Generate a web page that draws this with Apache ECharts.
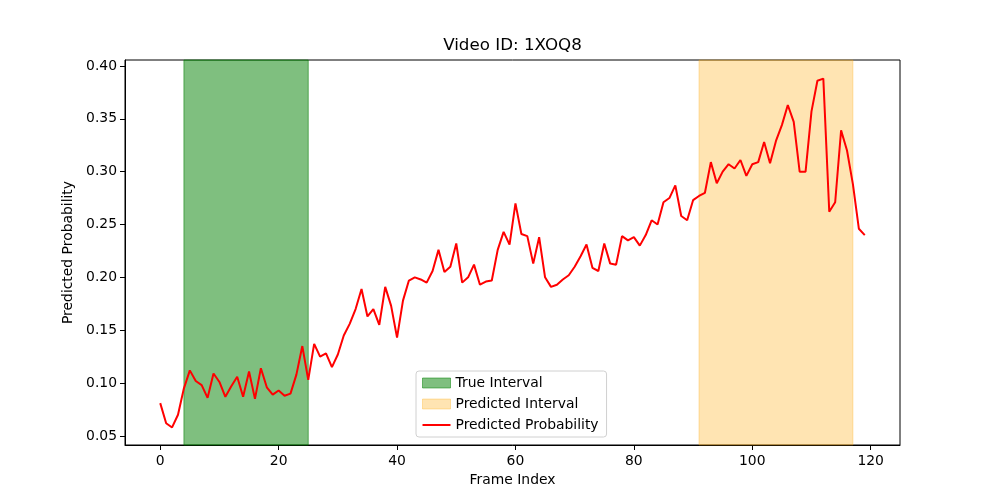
<!DOCTYPE html>
<html>
<head>
<meta charset="utf-8">
<title>Video ID: 1XOQ8</title>
<script src="https://cdn.jsdelivr.net/npm/echarts@6/dist/echarts.min.js"></script>
</head>
<body style="margin:0;padding:0;">
<div id="main" style="width:1000px;height:500px;"></div>
<script type="text/javascript">
// predicted probability per frame (frame 0..119)
var probs = [
  0.081, 0.062, 0.058, 0.070, 0.095, 0.112, 0.102, 0.098, 0.086, 0.109,
  0.101, 0.087, 0.097, 0.106, 0.087, 0.111, 0.085, 0.114, 0.096, 0.089,
  0.093, 0.088, 0.090, 0.108, 0.135, 0.103, 0.137, 0.125, 0.128, 0.115,
  0.127, 0.145, 0.156, 0.170, 0.189, 0.163, 0.170, 0.155, 0.191, 0.173,
  0.143, 0.178, 0.197, 0.200, 0.198, 0.195, 0.206, 0.226, 0.205, 0.210,
  0.232, 0.195, 0.200, 0.212, 0.193, 0.196, 0.197, 0.226, 0.243, 0.231,
  0.270, 0.241, 0.239, 0.213, 0.238, 0.200, 0.191, 0.193, 0.198, 0.202,
  0.210, 0.220, 0.231, 0.209, 0.206, 0.232, 0.213, 0.212, 0.239, 0.235,
  0.238, 0.230, 0.240, 0.254, 0.250, 0.271, 0.275, 0.287, 0.258, 0.254,
  0.273, 0.277, 0.280, 0.309, 0.289, 0.300, 0.307, 0.303, 0.311, 0.296,
  0.307, 0.309, 0.328, 0.308, 0.329, 0.344, 0.363, 0.347, 0.300, 0.300,
  0.357, 0.386, 0.388, 0.262, 0.271, 0.339, 0.320, 0.288, 0.246, 0.240
];
var trueInterval = [4, 25];
var predInterval = [91, 117];
var xTicks = [0, 20, 40, 60, 80, 100, 120];
var yTicks = [0.05, 0.10, 0.15, 0.20, 0.25, 0.30, 0.35, 0.40];

var lineData = [];
for (var i = 0; i < probs.length; i++) {
  lineData.push([i, probs[i]]);
}

var font = 'DejaVu Sans';
var myChart = echarts.init(document.getElementById('main'));

var option = {
  animation: false,
  textStyle: { fontFamily: font },
  graphic: [{
    type: 'text',
    x: 512.5,
    y: 46,
    style: {
      text: 'Video ID: 1XOQ8',
      fontFamily: font,
      fontSize: 16.7,
      fill: '#000',
      align: 'center',
      verticalAlign: 'middle'
    }
  }],
  grid: {
    left: 125,
    right: 100,
    top: 60,
    bottom: 55,
    show: true,
    borderColor: '#000',
    borderWidth: 1,
    backgroundColor: 'transparent'
  },
  legend: {
    orient: 'vertical',
    left: 416,
    top: 371,
    padding: [5, 8, 5, 6],
    itemGap: 7,
    itemWidth: 28,
    itemHeight: 10,
    symbolKeepAspect: true,
    backgroundColor: 'rgba(255,255,255,0.8)',
    borderColor: '#d0d0d0',
    borderWidth: 1,
    borderRadius: 3,
    textStyle: { fontFamily: font, fontSize: 13.9, color: '#000', lineHeight: 14 },
    data: [
      { name: 'True Interval', icon: 'rect',
        itemStyle: { color: 'rgba(0,128,0,0.5)', borderColor: 'rgba(0,128,0,0.5)', borderWidth: 1 } },
      { name: 'Predicted Interval', icon: 'rect',
        itemStyle: { color: 'rgba(255,165,0,0.3)', borderColor: 'rgba(255,165,0,0.3)', borderWidth: 1 } },
      { name: 'Predicted Probability', icon: 'path://M0,0 L28,0 L28,2 L0,2 Z',
        itemStyle: { color: '#ff0000', borderWidth: 0 } }
    ]
  },
  xAxis: {
    type: 'value',
    min: -5.95,
    max: 124.95,
    name: 'Frame Index',
    nameLocation: 'middle',
    nameGap: 28,
    nameTextStyle: { fontFamily: font, fontSize: 13.9, color: '#000' },
    splitLine: { show: false },
    axisLine: { show: true, onZero: false, lineStyle: { color: '#000', width: 1 } },
    axisTick: { show: true, inside: false, length: 5, customValues: xTicks, lineStyle: { color: '#000' } },
    axisLabel: { customValues: xTicks, margin: 9, fontFamily: font, fontSize: 13.9, color: '#000' }
  },
  yAxis: {
    type: 'value',
    min: 0.0414,
    max: 0.4056,
    name: 'Predicted Probability',
    nameLocation: 'middle',
    nameGap: 47,
    nameTextStyle: { fontFamily: font, fontSize: 13.9, color: '#000' },
    splitLine: { show: false },
    axisLine: { show: true, onZero: false, lineStyle: { color: '#000', width: 1 } },
    axisTick: { show: true, inside: false, length: 5, customValues: yTicks, lineStyle: { color: '#000' } },
    axisLabel: {
      customValues: yTicks, margin: 8, fontFamily: font, fontSize: 13.9, color: '#000',
      formatter: function (v) { return v.toFixed(2); }
    }
  },
  series: [
    {
      name: 'True Interval',
      type: 'line',
      data: [],
      itemStyle: { color: 'rgba(0,128,0,0.5)' },
      markArea: {
        silent: true,
        itemStyle: { color: 'rgba(0,128,0,0.5)', borderColor: 'rgba(0,128,0,0.55)', borderWidth: 1 },
        data: [[{ xAxis: trueInterval[0] }, { xAxis: trueInterval[1] }]]
      }
    },
    {
      name: 'Predicted Interval',
      type: 'line',
      data: [],
      itemStyle: { color: 'rgba(255,165,0,0.3)' },
      markArea: {
        silent: true,
        itemStyle: { color: 'rgba(255,165,0,0.3)', borderColor: 'rgba(255,165,0,0.3)', borderWidth: 1 },
        data: [[{ xAxis: predInterval[0] }, { xAxis: predInterval[1] }]]
      }
    },
    {
      name: 'Predicted Probability',
      type: 'line',
      data: lineData,
      symbol: 'none',
      z: 5,
      lineStyle: { color: '#ff0000', width: 2 },
      itemStyle: { color: '#ff0000' }
    }
  ]
};
myChart.setOption(option);
</script>
</body>
</html>
